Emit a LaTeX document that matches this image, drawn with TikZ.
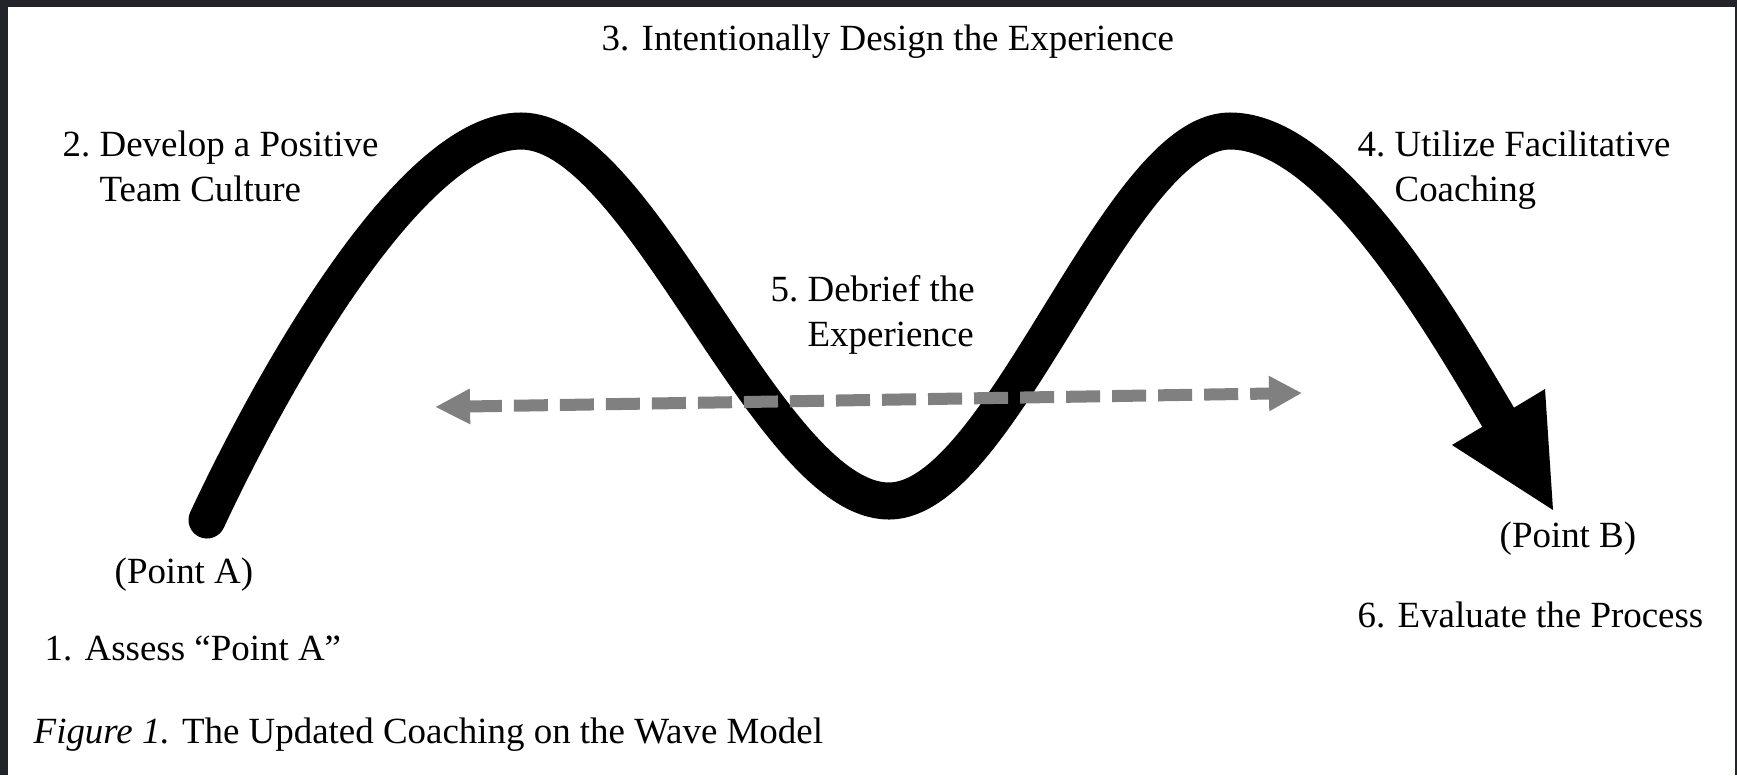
\documentclass[tikz,border=0pt]{standalone}
\usepackage{fontspec}
\setmainfont{Liberation Serif}
\usetikzlibrary{arrows.meta}
\definecolor{framecol}{RGB}{35,35,42}
\definecolor{dashgray}{RGB}{128,128,128}
\newcommand{\twoline}[3]{\begin{tabular}[t]{@{}l@{\ }l@{}}#1 & #2\\ & #3\end{tabular}}
\begin{document}
\begin{tikzpicture}[x=0.01cm,y=-0.01cm,
  lbl/.style={anchor=base west, inner sep=0pt, font=\fontsize{10.5}{13}\selectfont},
  wave/.style={line width=0.37cm, line cap=round, black},
  headfill/.style={fill=black},
  dasharrow/.style={draw=dashgray, line width=0.12cm, dash pattern=on 0.34cm off 0.12cm,
    {Triangle[length=0.35cm,width=0.33cm]}-{Triangle[length=0.33cm,width=0.33cm]}}
]
\useasboundingbox (0,0) rectangle (1737,775);
\fill[framecol] (0,0) rectangle (1737,775);
\fill[white] (8,7) rectangle (1735,775);

% wave
\coordinate (A) at (207,520);
\coordinate (P1) at (521,131);
\coordinate (T) at (889,501);
\coordinate (P2) at (1230,131);
\coordinate (HB) at (1498,417);
\coordinate (HL) at (1452,445);
\coordinate (HR) at (1545,389);
\coordinate (B) at (1553,510);
\draw[wave] (A) .. controls (262,402) and (406,131) .. (P1)
  .. controls (642,131) and (768,501) .. (T)
  .. controls (1002,501) and (1117,131) .. (P2)
  .. controls (1330,131) and (1437,314) .. (HB);
\fill[headfill] (HL) -- (B) -- (HR) -- cycle;

% dashed double arrow
\coordinate (DL) at (435,407);
\coordinate (DR) at (1302,393);
\draw[dasharrow] (DL) -- (DR);

% labels
\node[lbl] (t3) at (601,50) {3. Intentionally Design the Experience};
\node[lbl] (t2) at (62,156) {\twoline{2.}{Develop a Positive}{Team Culture}};
\node[lbl] (t4) at (1357,156) {\twoline{4.}{Utilize Facilitative}{Coaching}};
\node[lbl] (t5) at (770,301) {\twoline{5.}{Debrief the}{Experience}};
\node[lbl] (pa) at (114,583) {(Point A)};
\node[lbl] (t1) at (44,660) {1. Assess “Point A”};
\node[lbl] (pb) at (1499,547) {(Point B)};
\node[lbl] (t6) at (1357,627) {6. Evaluate the Process};
\node[lbl] (cap) at (33,743) {\textit{Figure 1.} The Updated Coaching on the Wave Model};
\end{tikzpicture}
\end{document}
